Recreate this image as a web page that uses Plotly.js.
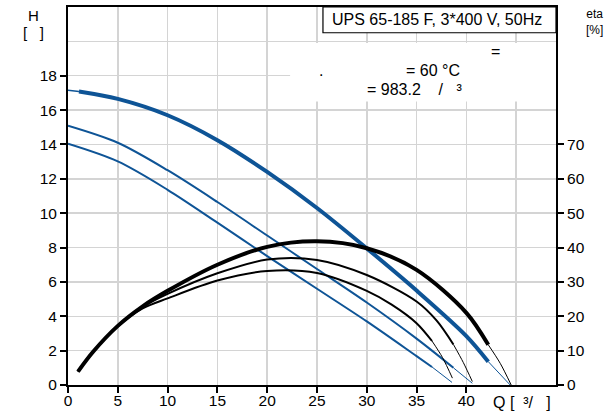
<!DOCTYPE html>
<html><head><meta charset="utf-8">
<script src="https://cdn.plot.ly/plotly-3.0.1.min.js"></script>
<style>html,body{margin:0;padding:0;background:#fff}#chart{width:616px;height:412px}</style>
</head><body><div id="chart"></div>
<script>
// ---- tick / grid values ----
const Q_TICKS = [0, 5, 10, 15, 20, 25, 30, 35, 40];
const Q_GRID = [0, 5, 10, 15, 20, 25, 30, 35, 40, 45];
const H_TICKS = [0, 2, 4, 6, 8, 10, 12, 14, 16, 18];
const H_GRID = [0, 2, 4, 6, 8, 10, 12, 14, 16, 18, 20, 22];
const ETA_TICKS = [0, 10, 20, 30, 40, 50, 60, 70];

// ---- head curves (H, m) ----
const q1Start = [0, 1.1];            const h1Start = [17.15, 17.08];
const q1 = [1.1, 5, 10, 15, 20, 25, 30, 35, 40, 42.2];
const h1 = [17.08, 16.65, 15.7, 14.25, 12.4, 10.3, 7.95, 5.5, 2.85, 1.36];
const q1End = [42.2, 44.4];          const h1End = [1.36, 0];

const q2 = [0, 5, 10, 15, 20, 25, 30, 35, 38.7];
const h2 = [15.09, 14.1, 12.5, 10.65, 8.7, 6.75, 4.8, 2.7, 1.0];
const q2End = [38.7, 40.6];          const h2End = [1.0, 0.1];

const q3 = [0, 5, 10, 15, 20, 25, 30, 35, 36.55];
const h3 = [14.04, 13.01, 11.36, 9.45, 7.5, 5.6, 3.7, 1.68, 1.05];
const q3End = [36.55, 38.56];        const h3End = [1.05, 0.15];

// ---- efficiency curves (eta, %) ----
const qe1 = [1, 2.5, 5, 7.5, 10, 15, 20, 25, 30, 35, 40, 42.2];
const eta1 = [3.9, 9.6, 17.2, 22.9, 27.4, 35.0, 40.2, 41.8, 39.8, 33.5, 21.0, 11.7];
const qe1End = [42.2, 43.4, 44.5];   const eta1End = [11.7, 6.3, 0];

const qe2 = [1, 2.5, 5, 7.5, 10, 15, 20, 25, 30, 35, 37, 38.7];
const eta2 = [3.9, 9.6, 17.1, 22.7, 26.5, 32.5, 36.5, 36.4, 32.0, 24.3, 18.8, 11.8];
const qe2End = [38.7, 39.7, 40.6];   const eta2End = [11.8, 6.5, 1.0];

const qe3 = [1, 2.5, 5, 7.5, 10, 15, 20, 25, 30, 32.5, 35, 36.55];
const eta3 = [3.9, 9.6, 17.1, 22.3, 25.2, 30.4, 33.2, 32.6, 27.4, 23.4, 18.0, 12.8];
const qe3End = [36.55, 37.6, 38.6];  const eta3End = [12.8, 8.0, 2.0];

const BLUE = '#0e5496', BLACK = '#000000';
const FONT = 'Liberation Sans, Arial, sans-serif';

function line(x, y, color, width, axis) {
  return {x: x, y: y, type: 'scatter', mode: 'lines', yaxis: axis || 'y',
          line: {color: color, width: width, shape: 'spline', smoothing: 0.9},
          hoverinfo: 'skip', showlegend: false};
}

const traces = [
  line(qe3, eta3, BLACK, 2, 'y2'), line(qe3End, eta3End, BLACK, 1, 'y2'),
  line(qe2, eta2, BLACK, 2, 'y2'), line(qe2End, eta2End, BLACK, 1, 'y2'),
  line(qe1, eta1, BLACK, 4, 'y2'), line(qe1End, eta1End, BLACK, 1, 'y2'),
  line(q3, h3, BLUE, 2), line(q3End, h3End, BLUE, 1),
  line(q2, h2, BLUE, 2), line(q2End, h2End, BLUE, 1),
  line(q1Start, h1Start, BLUE, 1.5), line(q1, h1, BLUE, 4), line(q1End, h1End, BLUE, 1)
];

const tickFont = {family: FONT, size: 15.5, color: '#000'};
const grid = {showgrid: true, gridcolor: '#d4d4d4', gridwidth: 1.5, ticks: ''};

const layout = {
  width: 616, height: 412,
  margin: {l: 68, r: 60, t: 7, b: 27, pad: 0},
  paper_bgcolor: '#fff', plot_bgcolor: '#fff',
  showlegend: false, hovermode: false,
  font: {family: FONT, color: '#000'},
  xaxis: {range: [0, 49], tickvals: Q_TICKS, ticks: 'outside', ticklen: 6, tickwidth: 2,
          tickcolor: '#000', showline: true, linewidth: 2, linecolor: '#000', mirror: true,
          showgrid: false, zeroline: false, tickfont: tickFont, fixedrange: true,
          ticklabelstandoff: -6,
          minor: Object.assign({tickvals: Q_GRID}, grid)},
  yaxis: {range: [0, 22], tickvals: H_TICKS, ticks: 'outside', ticklen: 6, tickwidth: 2,
          tickcolor: '#000', showline: true, linewidth: 2, linecolor: '#000',
          showgrid: false, zeroline: false, tickfont: tickFont, fixedrange: true,
          minor: Object.assign({tickvals: H_GRID}, grid)},
  yaxis2: {range: [0, 110], overlaying: 'y', side: 'right', tickvals: ETA_TICKS,
           ticks: 'outside', ticklen: 6, tickwidth: 2, tickcolor: '#000',
           showline: true, linewidth: 2, linecolor: '#000', showgrid: false,
           zeroline: false, tickfont: tickFont, fixedrange: true},
  shapes: [
    {type: 'rect', xref: 'x', yref: 'y', x0: 22.3, x1: 49, y0: 16.5, y1: 19.9,
     fillcolor: '#fff', line: {width: 0}, layer: 'between'},
    {type: 'rect', xref: 'x', yref: 'y', x0: 25.6, x1: 49, y0: 20.5, y1: 22,
     fillcolor: '#fff', line: {width: 1.2, color: '#000'}, layer: 'between'}
  ],
  annotations: [
    {xref: 'x', yref: 'y', x: 37.1, y: 21.27, text: 'UPS 65-185 F, 3*400 V, 50Hz',
     showarrow: false, font: {size: 16}, xanchor: 'center', yanchor: 'middle'},
    {xref: 'x', yref: 'y', x: 42.3, y: 19.42, text: '=', showarrow: false,
     font: {size: 16}, xanchor: 'left', yanchor: 'middle'},
    {xref: 'x', yref: 'y', x: 25.0, y: 18.3, text: '.', showarrow: false,
     font: {size: 16}, xanchor: 'left', yanchor: 'middle'},
    {xref: 'x', yref: 'y', x: 33.75, y: 18.3, text: '= 60 °C', showarrow: false,
     font: {size: 16}, xanchor: 'left', yanchor: 'middle'},
    {xref: 'x', yref: 'y', x: 29.85, y: 17.19,
     text: '= 983.2\u00a0\u00a0\u00a0\u00a0/\u00a0\u00a0\u00a0³', showarrow: false,
     font: {size: 16}, xanchor: 'left', yanchor: 'middle'},
    {xref: 'paper', yref: 'paper', x: -0.0717, y: 0.9775, text: 'H', showarrow: false,
     font: {size: 15}, xanchor: 'center', yanchor: 'middle'},
    {xref: 'paper', yref: 'paper', x: -0.0717, y: 0.9325, text: '[\u00a0\u00a0\u00a0]',
     showarrow: false, font: {size: 15}, xanchor: 'center', yanchor: 'middle'},
    {xref: 'paper', yref: 'paper', x: 1.0799, y: 0.96, text: 'eta<br>[%]', showarrow: false,
     font: {size: 12}, xanchor: 'center', yanchor: 'middle', borderpad: 0},
    {xref: 'paper', yref: 'paper', x: 0.867, y: -0.045,
     text: 'Q [\u00a0\u00a0³/\u00a0\u00a0\u00a0]', showarrow: false,
     font: {size: 16}, xanchor: 'left', yanchor: 'middle'}
  ]
};

Plotly.newPlot('chart', traces, layout, {staticPlot: true, displayModeBar: false});
</script>
</body></html>
